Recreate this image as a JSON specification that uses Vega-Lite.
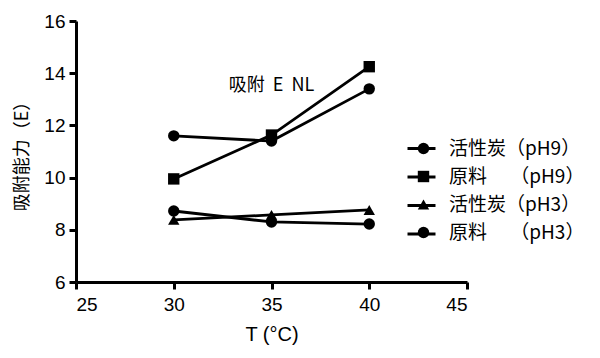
{
  "$schema": "https://vega.github.io/schema/vega-lite/v6.json",
  "autosize": "none",
  "width": 391,
  "height": 261,
  "padding": {"left": 76, "top": 21, "right": 133, "bottom": 76},
  "background": "white",
  "config": {
    "view": {"stroke": null},
    "font": "Liberation Sans, Noto Sans CJK SC",
    "axis": {
      "domainColor": "black", "domainWidth": 3, "tickColor": "black", "tickWidth": 3, "tickSize": 7,
      "labelColor": "black", "labelFontSize": 19, "labelFont": "Liberation Sans", "grid": false,
      "titleColor": "black", "titleFontWeight": "normal", "titleFont": "Noto Sans CJK SC, Liberation Sans"
    }
  },
  "datasets": {
    "main": [
      {"T": 30, "E": 11.6, "series": "活性炭（pH9）"},
      {"T": 35, "E": 11.4, "series": "活性炭（pH9）"},
      {"T": 40, "E": 13.4, "series": "活性炭（pH9）"},
      {"T": 30, "E": 9.95, "series": "原料　 （pH9）"},
      {"T": 35, "E": 11.63, "series": "原料　 （pH9）"},
      {"T": 40, "E": 14.25, "series": "原料　 （pH9）"},
      {"T": 30, "E": 8.38, "series": "活性炭（pH3）"},
      {"T": 35, "E": 8.57, "series": "活性炭（pH3）"},
      {"T": 40, "E": 8.76, "series": "活性炭（pH3）"},
      {"T": 30, "E": 8.72, "series": "原料　 （pH3）"},
      {"T": 35, "E": 8.3, "series": "原料　 （pH3）"},
      {"T": 40, "E": 8.22, "series": "原料　 （pH3）"}
    ],
    "note": [{"note": "吸附\u00a0\u00a0E\u00a0\u00a0NL"}]
  },
  "layer": [
    {
      "data": {"name": "main"},
      "mark": {"type": "line", "strokeWidth": 2.8},
      "encoding": {
        "x": {"field": "T", "type": "quantitative",
          "scale": {"domain": [25, 45], "nice": false, "zero": false},
          "axis": {"values": [25, 30, 35, 40, 45], "title": "T (°C)", "titleFontSize": 20, "titlePadding": 10, "labelPadding": 6, "titleFont": "Liberation Sans"}},
        "y": {"field": "E", "type": "quantitative",
          "scale": {"domain": [6, 16], "nice": false, "zero": false},
          "axis": {"values": [6, 8, 10, 12, 14, 16], "title": "吸附能力（E）", "titleFontSize": 18, "titlePadding": 12, "labelPadding": 4}},
        "detail": {"field": "series"},
        "color": {"field": "series", "type": "nominal",
          "scale": {"domain": ["活性炭（pH9）", "原料　 （pH9）", "活性炭（pH3）", "原料　 （pH3）"], "range": ["black", "black", "black", "black"]},
          "legend": {"orient": "none", "legendX": 330, "legendY": 112, "title": null, "symbolType": "stroke", "symbolSize": 784, "symbolStrokeWidth": 3, "labelExpr": "''", "labelFontSize": 19, "rowPadding": 2.5, "padding": 0}}
      }
    },
    {
      "data": {"name": "main"},
      "mark": {"type": "point", "filled": true, "opacity": 1, "color": "black"},
      "encoding": {
        "x": {"field": "T", "type": "quantitative"},
        "y": {"field": "E", "type": "quantitative"},
        "shape": {"field": "series", "type": "nominal",
          "sort": ["活性炭（pH9）", "原料　 （pH9）", "活性炭（pH3）", "原料　 （pH3）"],
          "scale": {"range": ["circle", "square", "triangle-up", "circle"]},
          "legend": {"orient": "none", "legendX": 338, "legendY": 118, "title": null, "symbolSize": 130, "symbolFillColor": "black", "symbolStrokeColor": "black", "labelFontSize": 19, "labelColor": "black", "labelOffset": 16, "rowPadding": 8, "padding": 0, "labelFont": "Noto Sans CJK SC"}},
        "size": {"value": 130}
      }
    },
    {
      "data": {"name": "note"},
      "mark": {"type": "text", "fontSize": 18, "fontWeight": "normal", "fill": "black", "font": "Noto Sans CJK SC"},
      "encoding": {
        "x": {"datum": 35, "type": "quantitative"},
        "y": {"datum": 13.5, "type": "quantitative"},
        "text": {"field": "note", "type": "nominal"}
      }
    }
  ]
}
